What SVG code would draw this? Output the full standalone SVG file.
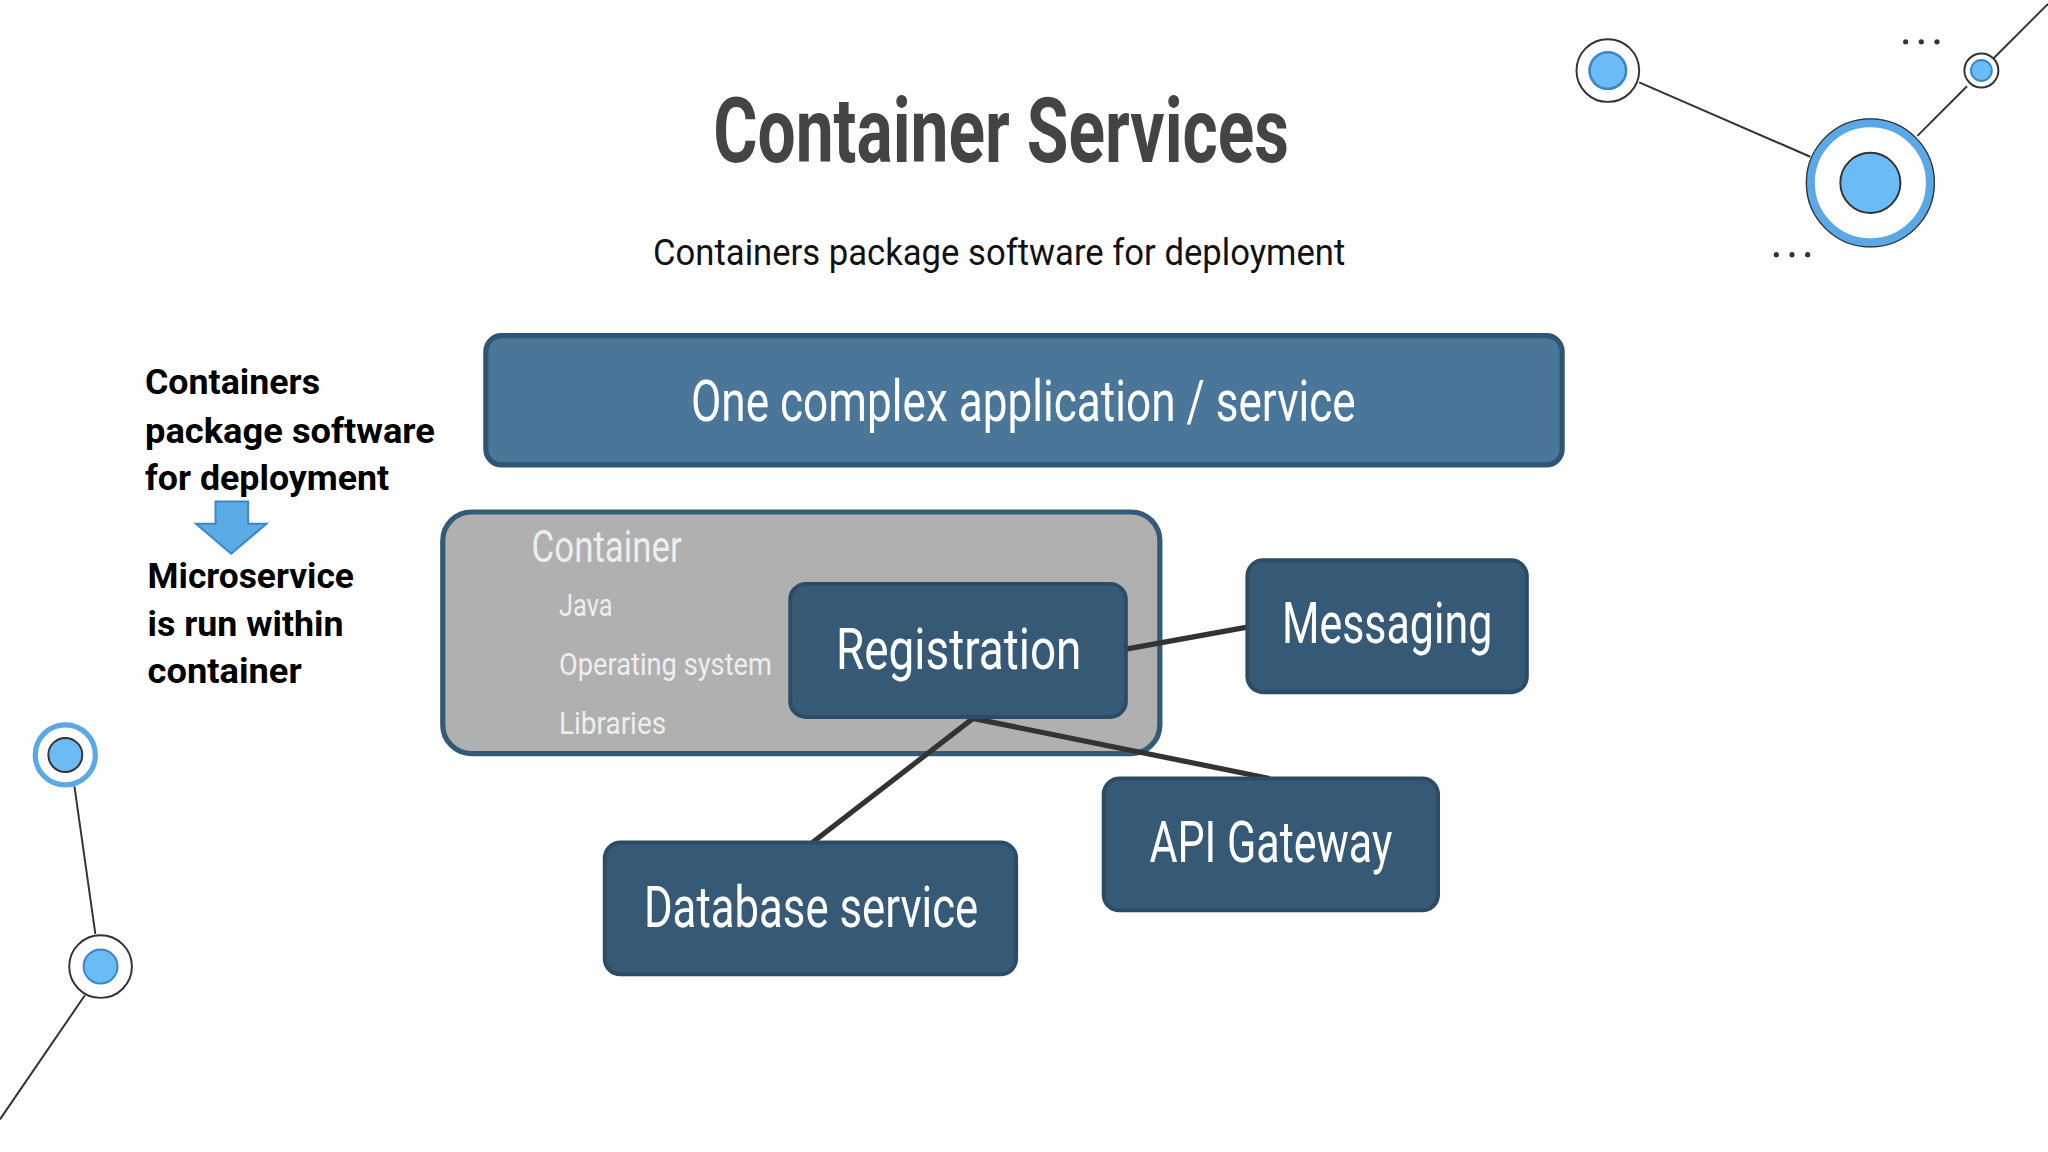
<svg xmlns="http://www.w3.org/2000/svg" width="2048" height="1152" viewBox="0 0 2048 1152">
<style>
.nf{font-family:"Roboto","Liberation Sans",sans-serif;}
.box{fill:#365a75;stroke:#2c4c66;stroke-width:3;}
.bt{fill:#fff;font-size:44px;text-anchor:middle;}
.ct{fill:#eeeeee;font-size:24px;}
.lt{fill:#000;font-size:27px;font-weight:bold;}
.conn{stroke:#333;stroke-width:4;fill:none;}
.thin{stroke:#333;stroke-width:1.5;fill:none;}
</style>
<rect width="2048" height="1152" fill="#fff"/>
<g transform="scale(1.30612)">
<g id="decor">
<line class="thin" x1="1255" y1="63" x2="1386" y2="120"/>
<line class="thin" x1="1468" y1="104" x2="1506" y2="66"/>
<line class="thin" x1="1526" y1="45" x2="1568" y2="3"/>
<line class="thin" x1="57" y1="602" x2="73" y2="715"/>
<line class="thin" x1="65" y1="762" x2="0" y2="857"/>
<circle cx="1231" cy="54" r="24" fill="#fff" stroke="#333" stroke-width="1.5"/>
<circle cx="1231" cy="54" r="14" fill="#6bbcf5" stroke="#3a86c6" stroke-width="2"/>
<circle cx="1432" cy="140" r="46" fill="#fff" stroke="#5aa9e6" stroke-width="7"/>
<circle cx="1432" cy="140" r="49" fill="none" stroke="#333" stroke-width="1"/>
<circle cx="1432" cy="140" r="23" fill="#6bbcf5" stroke="#333" stroke-width="1.5"/>
<circle cx="1517" cy="54" r="13" fill="#fff" stroke="#333" stroke-width="1.5"/>
<circle cx="1517" cy="54" r="8" fill="#6bbcf5" stroke="#3a86c6" stroke-width="1.5"/>
<circle cx="50" cy="578" r="23" fill="#fff" stroke="#5aa9e6" stroke-width="4"/>
<circle cx="50" cy="578" r="13" fill="#6bbcf5" stroke="#333" stroke-width="1.5"/>
<circle cx="77" cy="740" r="24" fill="#fff" stroke="#333" stroke-width="1.5"/>
<circle cx="77" cy="740" r="13" fill="#6bbcf5" stroke="#3a86c6" stroke-width="1.5"/>
<g fill="#333"><circle cx="1459" cy="32" r="2"/><circle cx="1471" cy="32" r="2"/><circle cx="1483" cy="32" r="2"/>
<circle cx="1360" cy="195" r="2"/><circle cx="1372" cy="195" r="2"/><circle cx="1384" cy="195" r="2"/></g>
</g>
<g id="title" class="nf">
<text x="546" y="124" font-size="70" font-weight="bold" fill="#444" textLength="441" lengthAdjust="spacingAndGlyphs">Container Services</text>
<text x="500" y="203" font-size="28" fill="#111" textLength="530" lengthAdjust="spacingAndGlyphs">Containers package software for deployment</text>
</g>
<g id="left-notes" class="nf">
<text class="lt" x="111" y="302" textLength="134" lengthAdjust="spacingAndGlyphs">Containers</text>
<text class="lt" x="111" y="339" textLength="222" lengthAdjust="spacingAndGlyphs">package software</text>
<text class="lt" x="111" y="375" textLength="187" lengthAdjust="spacingAndGlyphs">for deployment</text>
<polygon points="165,384 190,384 190,401 204,401 177,424 150,401 165,401" fill="#5aabe6" stroke="#3a86c6" stroke-width="1.5"/>
<text class="lt" x="113" y="450" textLength="158" lengthAdjust="spacingAndGlyphs">Microservice</text>
<text class="lt" x="113" y="487" textLength="150" lengthAdjust="spacingAndGlyphs">is run within</text>
<text class="lt" x="113" y="523" textLength="118" lengthAdjust="spacingAndGlyphs">container</text>
</g>
<g id="app">
<rect x="372" y="257" width="824" height="99" rx="12" fill="#4a7799" stroke="#2f5572" stroke-width="4"/>
<text class="nf bt" x="529" y="322" text-anchor="start" style="text-anchor:start" textLength="509" lengthAdjust="spacingAndGlyphs">One complex application / service</text>
</g>
<g id="container" class="nf">
<rect x="339" y="392" width="549" height="185" rx="22" fill="#b0b0b0" stroke="#335a77" stroke-width="4"/>
<text x="407" y="430" font-size="34" fill="#eee" textLength="115" lengthAdjust="spacingAndGlyphs">Container</text>
<text class="ct" x="428" y="472" textLength="41" lengthAdjust="spacingAndGlyphs">Java</text>
<text class="ct" x="428" y="517" textLength="163" lengthAdjust="spacingAndGlyphs">Operating system</text>
<text class="ct" x="428" y="562" textLength="82" lengthAdjust="spacingAndGlyphs">Libraries</text>
</g>
<g id="connectors">
<line class="conn" x1="862" y1="497" x2="956" y2="480"/>
<line class="conn" x1="745" y1="550" x2="622" y2="645"/>
<line class="conn" x1="745" y1="550" x2="972" y2="596"/>
</g>
<g id="registration" class="nf">
<rect class="box" x="605" y="447" width="257" height="102" rx="12"/>
<text class="bt" x="734" y="512" textLength="188" lengthAdjust="spacingAndGlyphs">Registration</text>
</g>
<g id="messaging" class="nf">
<rect class="box" x="955" y="429" width="214" height="101" rx="12"/>
<text class="bt" x="1062" y="492" textLength="161" lengthAdjust="spacingAndGlyphs">Messaging</text>
</g>
<g id="api-gateway" class="nf">
<rect class="box" x="845" y="596" width="256" height="101" rx="12"/>
<text class="bt" x="973" y="660" textLength="186" lengthAdjust="spacingAndGlyphs">API Gateway</text>
</g>
<g id="database" class="nf">
<rect class="box" x="463" y="645" width="315" height="101" rx="12"/>
<text class="bt" x="621" y="710" textLength="256" lengthAdjust="spacingAndGlyphs">Database service</text>
</g>
</g>
</svg>
